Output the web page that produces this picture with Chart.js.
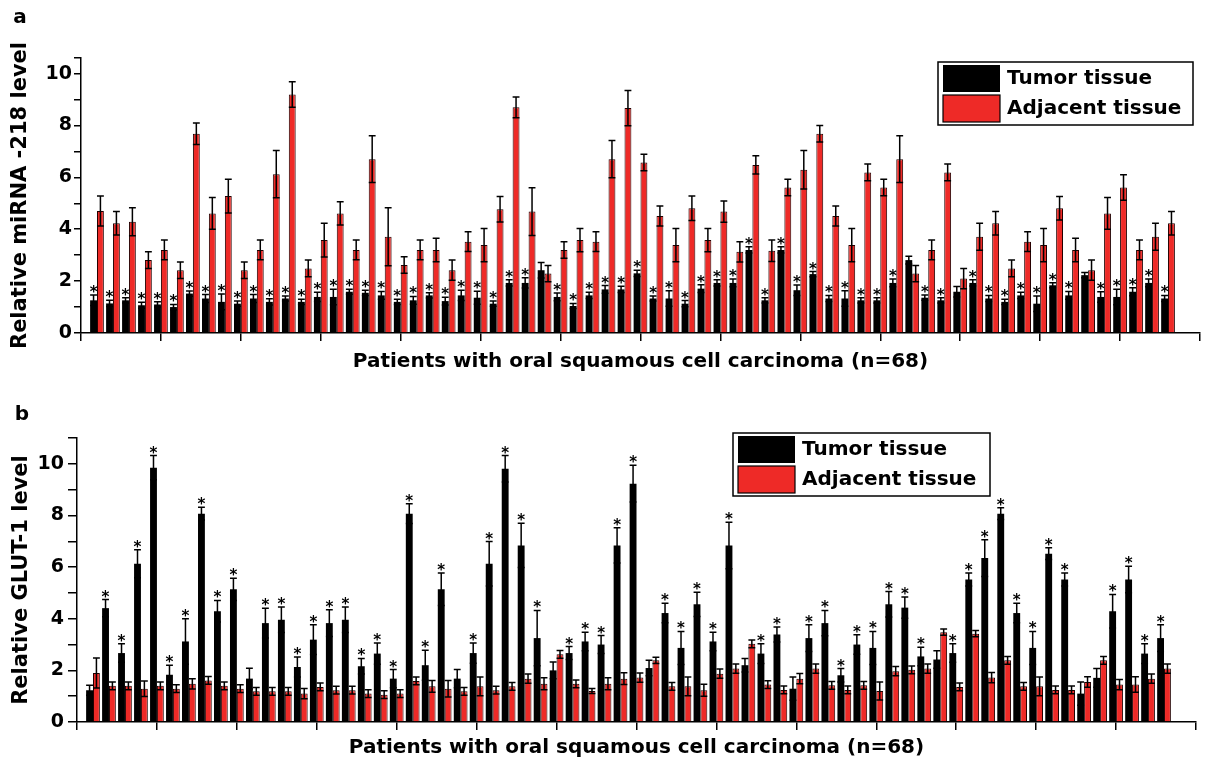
<!DOCTYPE html>
<html><head><meta charset="utf-8">
<script src="https://cdn.jsdelivr.net/npm/chart.js@4.4.0/dist/chart.umd.min.js"></script>
<style>
html,body{margin:0;padding:0;background:#fff;}
#wrap{position:relative;width:1213px;height:765px;overflow:hidden;}
#ca{position:absolute;left:0;top:0;}
#cb{position:absolute;left:0;top:385px;}
</style></head><body>
<div id="wrap"><canvas id="ca" width="1213" height="385"></canvas><canvas id="cb" width="1213" height="380"></canvas></div>
<script>
// ---------- data ----------
const patients = Array.from({length:68},(_,i)=>i+1);
const yTickValues = [0,1,2,3,4,5,6,7,8,9,10];
const yTickLabels = ['0','','2','','4','','6','','8','','10'];

// Panel a: miRNA-218
const mirTumor = [1.26,1.14,1.26,1.07,1.10,1.00,1.52,1.33,1.20,1.13,1.33,1.20,1.33,1.20,1.39,1.39,1.59,1.55,1.45,1.20,
  1.26,1.45,1.23,1.45,1.36,1.13,1.93,1.93,2.42,1.39,1.04,1.45,1.68,1.68,2.30,1.33,1.33,1.13,1.71,1.93,
  1.93,3.20,1.26,3.20,1.65,2.27,1.33,1.33,1.26,1.26,1.93,2.81,1.36,1.26,1.59,1.93,1.33,1.20,1.45,1.13,
  1.84,1.45,2.23,1.39,1.39,1.59,1.93,1.33];
const mirTumorErr = [0.20,0.12,0.10,0.12,0.10,0.10,0.10,0.15,0.30,0.10,0.15,0.12,0.10,0.10,0.18,0.30,0.10,0.10,0.15,0.10,
  0.15,0.10,0.15,0.20,0.25,0.10,0.12,0.20,0.30,0.15,0.10,0.12,0.15,0.12,0.12,0.10,0.30,0.12,0.15,0.12,
  0.15,0.12,0.10,0.12,0.20,0.10,0.12,0.30,0.10,0.10,0.15,0.15,0.10,0.10,0.20,0.12,0.12,0.10,0.12,0.30,
  0.10,0.15,0.10,0.20,0.30,0.15,0.15,0.12];
const mirAdj = [4.70,4.23,4.29,2.81,3.20,2.42,7.68,4.61,5.28,2.42,3.20,6.12,9.19,2.49,3.58,4.61,3.20,6.70,3.71,2.62,
  3.20,3.20,2.42,3.52,3.39,4.77,8.70,4.68,2.29,3.20,3.58,3.52,6.70,8.67,6.57,4.51,3.39,4.81,3.58,4.68,
  3.13,6.48,3.17,5.61,6.29,7.68,4.51,3.39,6.19,5.61,6.70,2.29,3.20,6.19,2.10,3.71,4.23,2.49,3.52,3.39,
  4.81,3.20,2.42,4.61,5.61,3.20,3.71,4.23];
const mirAdjErr = [0.58,0.45,0.54,0.32,0.38,0.32,0.41,0.61,0.65,0.32,0.38,0.91,0.49,0.32,0.65,0.45,0.38,0.90,1.12,0.32,
  0.38,0.45,0.39,0.38,0.64,0.49,0.40,0.92,0.31,0.32,0.45,0.38,0.72,0.68,0.32,0.39,0.64,0.47,0.45,0.41,
  0.39,0.35,0.41,0.32,0.74,0.32,0.39,0.64,0.32,0.32,0.90,0.31,0.38,0.32,0.39,0.52,0.45,0.32,0.38,0.64,
  0.45,0.45,0.39,0.61,0.49,0.38,0.52,0.45];
const mirStars = [1,1,1,1,1,1,1,1,1,1,1,1,1,1,1,1,1,1,1,1,
  1,1,1,1,1,1,1,1,0,1,1,1,1,1,1,1,1,1,1,1,
  1,1,1,1,1,1,1,1,1,1,1,0,1,1,0,1,1,1,1,1,
  1,1,0,1,1,1,1,1];

// Panel b: GLUT-1
const glutTumor = [1.23,4.41,2.67,6.13,9.85,1.83,3.12,8.07,4.29,5.14,1.68,3.83,3.96,2.13,3.19,3.83,3.96,2.16,2.65,1.68,
  8.07,2.20,5.14,1.68,2.67,6.13,9.81,6.84,3.25,2.00,2.67,3.12,3.00,6.84,9.23,2.09,4.22,2.87,4.56,3.12,
  6.84,2.20,2.65,3.39,1.29,3.25,3.83,1.81,3.00,2.87,4.56,4.43,2.54,2.42,2.67,5.52,6.35,8.07,4.22,2.87,
  6.52,5.52,1.10,1.71,4.29,5.52,2.65,3.25];
const glutTumorErr = [0.19,0.33,0.36,0.54,0.47,0.37,0.88,0.25,0.42,0.43,0.40,0.58,0.49,0.39,0.58,0.52,0.49,0.30,0.41,0.35,
  0.38,0.58,0.63,0.35,0.39,0.86,0.51,0.86,1.07,0.32,0.25,0.36,0.35,0.68,0.71,0.30,0.38,0.64,0.47,0.36,
  0.90,0.26,0.38,0.29,0.45,0.52,0.49,0.26,0.38,0.64,0.49,0.41,0.36,0.34,0.36,0.25,0.71,0.23,0.38,0.64,
  0.23,0.25,0.45,0.36,0.65,0.51,0.38,0.52];
const glutAdj = [1.90,1.40,1.40,1.29,1.40,1.29,1.48,1.61,1.40,1.29,1.19,1.19,1.19,1.10,1.36,1.23,1.23,1.10,1.06,1.10,
  1.59,1.38,1.29,1.19,1.38,1.23,1.38,1.68,1.48,2.62,1.48,1.20,1.48,1.68,1.72,2.39,1.38,1.38,1.23,1.87,
  2.07,3.03,1.45,1.24,1.68,2.07,1.42,1.24,1.42,1.20,1.97,2.02,2.07,3.48,1.36,3.42,1.72,2.39,1.38,1.38,
  1.24,1.24,1.55,2.39,1.45,1.45,1.68,2.07];
const glutAdjErr = [0.58,0.15,0.15,0.30,0.15,0.15,0.20,0.15,0.15,0.15,0.15,0.15,0.15,0.20,0.15,0.15,0.15,0.15,0.15,0.15,
  0.15,0.23,0.32,0.15,0.36,0.15,0.15,0.18,0.23,0.15,0.15,0.10,0.23,0.23,0.18,0.12,0.15,0.36,0.23,0.18,
  0.18,0.15,0.15,0.15,0.20,0.18,0.15,0.15,0.15,0.35,0.18,0.15,0.18,0.12,0.15,0.12,0.20,0.15,0.15,0.36,
  0.15,0.15,0.20,0.15,0.20,0.30,0.18,0.18];
const glutStars = [0,1,1,1,1,1,1,1,1,1,0,1,1,1,1,1,1,1,1,1,
  1,1,1,0,1,1,1,1,1,0,1,1,1,1,1,0,1,1,1,1,
  1,0,1,1,0,1,1,1,1,1,1,1,1,0,1,1,1,1,1,1,
  1,1,0,0,1,1,1,1];

const seriesNames = ['Tumor tissue','Adjacent tissue'];
const xTitle = 'Patients with oral squamous cell carcinoma (n=68)';
const RED = '#EE2A27';
const FONT = "'DejaVu Sans', 'Liberation Sans', Arial, sans-serif";

function overlayPlugin(c){
  return {
    id:'overlay'+c.letter,
    afterDatasetsDraw(chart){
      const ctx = chart.ctx, ys = chart.scales.y;
      ctx.save();
      ctx.strokeStyle = '#000'; ctx.lineWidth = 1.5;
      const sets = [[c.tumor,c.tumorErr],[c.adj,c.adjErr]];
      sets.forEach((s,d)=>{
        const meta = chart.getDatasetMeta(d);
        meta.data.forEach((bar,i)=>{
          const x = bar.x, w = bar.width;
          const yt = ys.getPixelForValue(s[0][i]+s[1][i]);
          const yl = ys.getPixelForValue(s[0][i]-s[1][i]);
          ctx.beginPath();
          ctx.moveTo(x,yl); ctx.lineTo(x,yt);
          ctx.moveTo(x-w/2,yt); ctx.lineTo(x+w/2,yt);
          ctx.moveTo(x-w/2,yl); ctx.lineTo(x+w/2,yl);
          ctx.stroke();
          if(d===0 && c.stars[i]){
            ctx.fillStyle = '#000';
            ctx.font = "bold 15px "+FONT;
            ctx.textAlign='center'; ctx.textBaseline='alphabetic';
            ctx.fillText('*', x, yt+2);
          }
        });
      });
      ctx.restore();
    },
    afterDraw(chart){
      const ctx = chart.ctx; const L = c.legend;
      ctx.save();
      ctx.fillStyle='#fff'; ctx.fillRect(L.x,L.y,L.w,L.h);
      ctx.strokeStyle='#000'; ctx.lineWidth=1.5; ctx.strokeRect(L.x,L.y,L.w,L.h);
      // swatches
      ctx.fillStyle='#000'; ctx.fillRect(L.x+5,L.y+3,57,27);
      ctx.fillStyle=RED; ctx.fillRect(L.x+5,L.y+33,57,27);
      ctx.lineWidth=1.2; ctx.strokeRect(L.x+5,L.y+33,57,27);
      ctx.fillStyle='#000'; ctx.font="bold 20px "+FONT;
      ctx.textAlign='left'; ctx.textBaseline='middle';
      ctx.fillText(seriesNames[0], L.x+69, L.y+17);
      ctx.fillText(seriesNames[1], L.x+69, L.y+47);
      // panel letter
      ctx.font="bold 20px "+FONT; ctx.textAlign='center';
      ctx.fillText(c.letter, c.lx, c.ly);
      ctx.restore();
    }
  };
}

function makeChart(id,c){
  return new Chart(document.getElementById(id),{
    type:'bar',
    data:{datasets:[
      {label:seriesNames[0], data:patients.map((p,i)=>({x:p,y:c.tumor[i]})), backgroundColor:'#000', borderColor:'#000', borderWidth:0},
      {label:seriesNames[1], data:patients.map((p,i)=>({x:p,y:c.adj[i]})), backgroundColor:RED, borderColor:'#200', borderWidth:1}
    ]},
    options:{
      responsive:false, animation:false, devicePixelRatio:1,
      layout:{padding:{left:0,right:c.padR,top:c.padT,bottom:c.padB}},
      plugins:{legend:{display:false},tooltip:{enabled:false}},
      datasets:{bar:{categoryPercentage:0.86,barPercentage:1,grouped:true}},
      scales:{
        x:{type:'linear',min:0,max:70,offset:false,
           grid:{offset:false,drawOnChartArea:false,drawTicks:true,tickLength:8,color:'#000',lineWidth:1.5},
           border:{color:'#000',width:1.5},
           ticks:{display:false,stepSize:5},
           title:{display:true,text:xTitle,color:'#000',font:{family:FONT,weight:'bold',size:20},padding:{top:0,bottom:0}},
           afterFit:s=>{s.height=c.xh;}},
        y:{type:'linear',min:0,max:c.ymax,
           afterBuildTicks:s=>{s.ticks=yTickValues.concat([c.ymax]).map(v=>({value:v}));},
           ticks:{autoSkip:false,color:'#000',padding:c.tpad,font:{family:FONT,weight:'bold',size:19},
                  callback:(v)=>{const k=yTickValues.indexOf(v);return k>=0?yTickLabels[k]:'';}},
           grid:{drawOnChartArea:false,tickLength:c.tl,color:'#000',lineWidth:1.5},
           border:{color:'#000',width:1.5},
           title:{display:true,text:c.yTitle,color:'#000',font:{family:FONT,weight:'bold',size:21},padding:{top:c.ytp,bottom:0}},
           afterFit:s=>{s.width=c.yw;}}
      }
    },
    plugins:[overlayPlugin(c)]
  });
}

makeChart('ca',{letter:'a',lx:20,ly:18,tumor:mirTumor,tumorErr:mirTumorErr,adj:mirAdj,adjErr:mirAdjErr,stars:mirStars,
  yTitle:'Relative miRNA -218 level',ymax:10.6,padT:58,padB:11,padR:13,xh:41,yw:81,tl:7,tpad:2,ytp:8.4,
  legend:{x:938,y:62,w:255,h:63}});
makeChart('cb',{letter:'b',lx:22,ly:30,tumor:glutTumor,tumorErr:glutTumorErr,adj:glutAdj,adjErr:glutAdjErr,stars:glutStars,
  yTitle:'Relative GLUT-1 level',ymax:11,padT:53,padB:5,padR:17,xh:38,yw:77,tl:9,tpad:4,ytp:9,
  legend:{x:733,y:48,w:257,h:63}});
</script>
</body></html>
